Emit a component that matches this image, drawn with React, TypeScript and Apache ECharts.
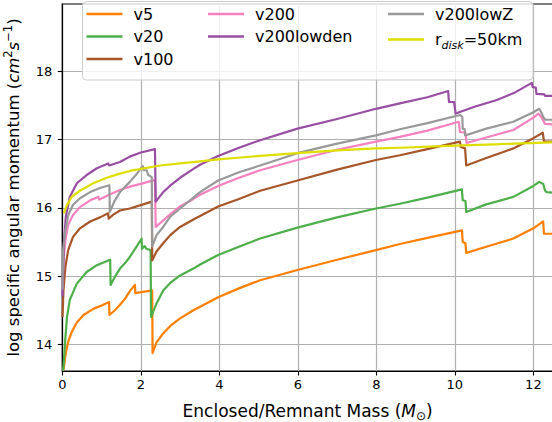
import React, { useEffect, useRef } from "react";
import * as echarts from "echarts";

const FONT = "DejaVu Sans";

const seriesNames = ["v5", "v20", "v100", "v200", "v200lowden", "v200lowZ", "r_disk=50km"];
const seriesColors = ["#ff7f00", "#4daf4a", "#a65628", "#f781bf", "#984ea3", "#999999", "#dede00"];

const xTicks = [0, 2, 4, 6, 8, 10, 12];
const yTicks = [14, 15, 16, 17, 18];

const v5 = [
  [0.02, 13.61], [0.04, 13.66], [0.07, 13.8], [0.1, 13.9], [0.15, 14.04], [0.24, 14.18], [0.37, 14.32],
  [0.54, 14.43], [0.79, 14.52], [1.0, 14.57], [1.19, 14.62], [1.2, 14.43], [1.34, 14.5], [1.47, 14.58],
  [1.6, 14.67], [1.72, 14.78], [1.85, 14.87], [1.86, 14.75], [2.05, 14.77], [2.29, 14.79], [2.3, 13.87],
  [2.4, 14.03], [2.57, 14.16], [2.75, 14.27], [3.0, 14.38], [3.34, 14.5], [3.51, 14.55], [3.97, 14.69],
  [4.5, 14.82], [5.04, 14.94], [5.99, 15.09], [7.0, 15.24], [7.99, 15.38], [8.6, 15.47], [9.3, 15.56],
  [10.18, 15.67], [10.2, 15.5], [10.27, 15.48], [10.29, 15.34], [10.8, 15.43], [11.49, 15.55],
  [12.0, 15.7], [12.25, 15.8], [12.27, 15.62], [12.5, 15.62],
];

const v20 = [
  [0.02, 13.61], [0.04, 13.75], [0.08, 14.11], [0.12, 14.4], [0.19, 14.65], [0.37, 14.89], [0.62, 15.06],
  [0.88, 15.16], [1.05, 15.2], [1.22, 15.24], [1.23, 14.87], [1.35, 15.0], [1.47, 15.11], [1.6, 15.19],
  [1.72, 15.28], [1.9, 15.44], [2.02, 15.55], [2.03, 15.4], [2.1, 15.44], [2.14, 15.4], [2.25, 15.38],
  [2.26, 14.4], [2.4, 14.6], [2.57, 14.79], [2.75, 14.9], [3.0, 15.01], [3.34, 15.11], [3.51, 15.17],
  [3.97, 15.31], [4.5, 15.43], [5.04, 15.55], [5.99, 15.71], [7.0, 15.86], [7.99, 15.99], [8.6, 16.06],
  [9.3, 16.15], [10.18, 16.27], [10.2, 16.11], [10.27, 16.1], [10.29, 15.94], [10.8, 16.05],
  [11.49, 16.16], [12.0, 16.32], [12.15, 16.38], [12.25, 16.35], [12.3, 16.25], [12.34, 16.23], [12.5, 16.22],
];

const v100 = [
  [0.005, 14.4], [0.03, 14.79], [0.08, 15.14], [0.15, 15.38], [0.27, 15.57], [0.45, 15.7], [0.71, 15.8],
  [0.96, 15.86], [1.17, 15.92], [1.18, 15.84], [1.3, 15.9], [1.47, 15.96], [1.72, 15.99], [2.0, 16.04],
  [2.28, 16.09], [2.29, 15.23], [2.4, 15.36], [2.57, 15.48], [2.75, 15.6], [3.0, 15.72], [3.34, 15.83],
  [3.51, 15.88], [3.97, 16.02], [4.5, 16.13], [5.04, 16.25], [5.99, 16.4], [7.0, 16.56], [7.99, 16.7],
  [8.6, 16.77], [9.3, 16.86], [10.13, 16.97], [10.15, 16.89], [10.26, 16.87], [10.29, 16.62],
  [10.8, 16.73], [11.49, 16.87], [12.0, 17.02], [12.24, 17.1], [12.27, 16.97], [12.5, 16.97],
];

const v200 = [
  [0.005, 14.8], [0.03, 15.23], [0.08, 15.53], [0.15, 15.75], [0.27, 15.89], [0.45, 16.01], [0.71, 16.11],
  [0.92, 16.16], [0.94, 16.12], [1.05, 16.15], [1.22, 16.2], [1.47, 16.26], [1.72, 16.31], [2.0, 16.35],
  [2.36, 16.41], [2.38, 15.72], [2.5, 15.78], [2.74, 15.9], [3.0, 16.02], [3.34, 16.13], [3.51, 16.19],
  [3.97, 16.32], [4.5, 16.44], [5.04, 16.55], [5.99, 16.7], [7.0, 16.85], [7.99, 16.97], [8.6, 17.04],
  [9.3, 17.13], [10.1, 17.26], [10.13, 17.11], [10.27, 17.1], [10.3, 16.95], [10.8, 17.03],
  [11.49, 17.14], [12.0, 17.32], [12.13, 17.38], [12.2, 17.33], [12.3, 17.23], [12.5, 17.22],
];

const v200lowden = [
  [0.005, 14.7], [0.02, 15.0], [0.04, 15.48], [0.09, 15.87], [0.19, 16.16], [0.37, 16.36], [0.62, 16.48],
  [0.88, 16.58], [1.17, 16.65], [1.19, 16.62], [1.47, 16.67], [1.72, 16.75], [2.0, 16.81], [2.36, 16.86],
  [2.38, 16.09], [2.57, 16.23], [2.74, 16.32], [3.0, 16.44], [3.34, 16.57], [3.51, 16.63], [3.97, 16.76],
  [4.5, 16.88], [5.04, 16.99], [5.99, 17.16], [7.0, 17.3], [7.99, 17.45], [8.6, 17.53], [9.3, 17.62],
  [9.83, 17.71], [9.85, 17.55], [9.98, 17.55], [10.02, 17.38], [10.5, 17.48], [11.07, 17.58],
  [11.5, 17.68], [11.96, 17.83], [11.98, 17.77], [12.06, 17.76], [12.08, 17.67], [12.28, 17.66],
  [12.3, 17.64], [12.5, 17.64],
];

const v200lowZ = [
  [0.005, 14.8], [0.02, 15.38], [0.08, 15.67], [0.15, 15.89], [0.27, 16.04], [0.45, 16.14], [0.71, 16.23],
  [0.96, 16.29], [1.2, 16.33], [1.21, 15.94], [1.34, 16.11], [1.47, 16.23], [1.72, 16.38], [1.9, 16.5],
  [2.05, 16.61], [2.07, 16.55], [2.15, 16.55], [2.19, 16.48], [2.28, 16.45], [2.29, 15.43], [2.4, 15.6],
  [2.57, 15.72], [2.75, 15.87], [3.0, 15.99], [3.34, 16.15], [3.51, 16.23], [3.97, 16.4], [4.5, 16.52],
  [5.04, 16.62], [5.99, 16.8], [7.0, 16.94], [7.99, 17.06], [8.6, 17.15], [9.3, 17.24], [10.13, 17.36],
  [10.19, 17.33], [10.2, 17.16], [10.25, 17.15], [10.26, 17.06], [10.8, 17.16], [11.49, 17.26],
  [12.0, 17.4], [12.15, 17.45], [12.2, 17.4], [12.25, 17.33], [12.3, 17.29], [12.5, 17.29],
];

const rdisk50 = [
  [0.04, 15.92], [0.08, 15.98], [0.12, 16.04], [0.24, 16.16], [0.45, 16.25], [0.79, 16.36], [1.13, 16.44],
  [1.47, 16.5], [1.72, 16.54], [2.49, 16.62], [3.0, 16.65], [3.51, 16.68], [3.97, 16.71], [5.04, 16.76],
  [5.99, 16.8], [7.0, 16.84], [7.99, 16.87], [8.6, 16.88], [10.0, 16.91], [11.0, 16.93], [12.5, 16.96],
];

const seriesData = [v5, v20, v100, v200, v200lowden, v200lowZ, rdisk50];

const legendColumns = [
  ["v5", "v20", "v100"],
  ["v200", "v200lowden"],
  ["v200lowZ", "r_disk=50km"],
];
const legendLefts = [86.5, 208, 388];

export default function App() {
  const ref = useRef<HTMLDivElement>(null);

  useEffect(() => {
    if (!ref.current) return;
    const chart = echarts.init(ref.current, null, { renderer: "svg" });

    const legendRich = {
      n: { fontSize: 16, fontFamily: FONT, color: "#000", lineHeight: 18 },
      s: { fontSize: 11, fontFamily: FONT, fontStyle: "italic", color: "#000", lineHeight: 18, padding: [11, 0, 0, 0] },
    };

    const legends = legendColumns.map((col, i) => ({
      show: true,
      data: col,
      orient: "vertical",
      left: legendLefts[i],
      top: 6,
      padding: 0,
      itemGap: 6.5,
      itemWidth: 36,
      itemHeight: 2.5,
      icon: "rect",
      z: 60,
      selectedMode: false,
      formatter: (name: string) =>
        name === "r_disk=50km" ? "{n|r}{s|disk}{n|=50km}" : "{n|" + name + "}",
      textStyle: { padding: [0, 0, 0, 6], rich: legendRich },
    }));

    const option: any = {
      animation: false,
      backgroundColor: "#fff",
      textStyle: { fontFamily: FONT },
      grid: {
        left: 62.3,
        top: 4,
        right: -1,
        bottom: 51,
        show: true,
        borderColor: "#000",
        borderWidth: 1.2,
        backgroundColor: "transparent",
        containLabel: false,
        outerBoundsMode: "none",
      },
      legend: legends,
      graphic: [
        {
          type: "rect",
          z: 50,
          shape: { x: 82.5, y: 1.5, width: 450.5, height: 78.5, r: 4 },
          style: { fill: "rgba(255,255,255,0.8)", stroke: "#cccccc", lineWidth: 1 },
        },
      ],
      xAxis: {
        type: "value",
        min: 0,
        max: 12.5,
        interval: 2,
        name: "{n|Enclosed/Remnant Mass (}{i|M}{s|⊙}{n|)}",
        nameLocation: "middle",
        nameGap: 30,
        nameTextStyle: {
          rich: {
            n: { fontSize: 17, fontFamily: FONT, color: "#000", lineHeight: 20 },
            i: { fontSize: 17, fontFamily: FONT, fontStyle: "italic", color: "#000", lineHeight: 20 },
            s: { fontSize: 12, fontFamily: FONT, color: "#000", lineHeight: 20, padding: [10, 0, 0, 0] },
          },
        },
        axisLine: { show: true, onZero: false, lineStyle: { color: "#000", width: 1.2 } },
        axisTick: { show: true, length: 4.5, inside: false, customValues: xTicks, lineStyle: { color: "#000", width: 1.1 } },
        axisLabel: { show: true, customValues: xTicks, margin: 7, fontSize: 13, fontFamily: FONT, color: "#000" },
        splitLine: { show: true, lineStyle: { color: "#b0b0b0", width: 1.2 } },
      },
      yAxis: {
        type: "value",
        min: 13.61,
        max: 18.985,
        splitNumber: 5,
        name: "{n|log specific angular momentum (}{i|cm}{p|2}{i|s}{p|−1}{n|)}",
        nameLocation: "middle",
        nameGap: 39,
        nameTextStyle: {
          rich: {
            n: { fontSize: 16.5, fontFamily: FONT, color: "#000", lineHeight: 20 },
            i: { fontSize: 16.5, fontFamily: FONT, fontStyle: "italic", color: "#000", lineHeight: 20 },
            p: { fontSize: 11.5, fontFamily: FONT, color: "#000", lineHeight: 20, padding: [0, 0, 10, 0] },
          },
        },
        axisLine: { show: true, onZero: false, lineStyle: { color: "#000", width: 1.2 } },
        axisTick: { show: true, length: 4.5, inside: false, customValues: yTicks, lineStyle: { color: "#000", width: 1.1 } },
        axisLabel: { show: true, customValues: yTicks, margin: 10, fontSize: 13, fontFamily: FONT, color: "#000" },
        splitLine: { show: true, lineStyle: { color: "#b0b0b0", width: 1.2 } },
      },
      series: seriesNames.map((name, i) => ({
        name,
        type: "line",
        data: seriesData[i],
        showSymbol: false,
        symbol: "none",
        smooth: false,
        clip: true,
        color: seriesColors[i],
        lineStyle: { color: seriesColors[i], width: 2.2, join: "round" },
        z: 2 + i * 0.01,
      })),
    };

    chart.setOption(option);
    return () => chart.dispose();
  }, []);

  return (
    <div
      ref={ref}
      style={{ position: "fixed", left: 0, top: 0, width: 552, height: 422, background: "#fff" }}
    />
  );
}
